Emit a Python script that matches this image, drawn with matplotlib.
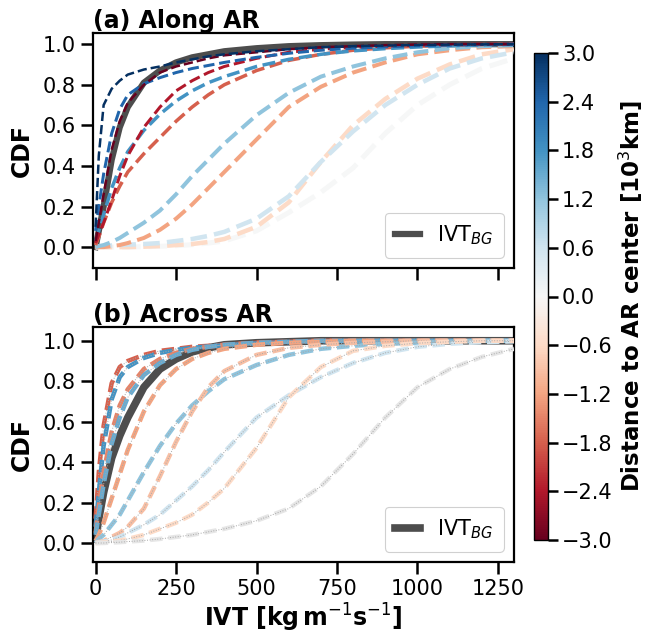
import numpy as np
import matplotlib
matplotlib.use("Agg")
import matplotlib.pyplot as plt
from matplotlib.colors import Normalize
from matplotlib.cm import ScalarMappable

# ---------------- data ----------------
ivt = [0, 10, 25, 50, 75, 100, 150, 200, 250, 300, 350, 400, 500, 600, 700, 800, 900, 1000, 1100, 1200, 1300]

# panel (a): along AR
dist_a = [3.0, 2.4, 1.8, 1.2, 0.6, 0.0, -0.6, -1.2, -1.8, -2.4, -3.0]
cdf_a_p30 = [0.10, 0.45, 0.70, 0.78, 0.82, 0.85, 0.875, 0.89, 0.91, 0.925, 0.94, 0.95, 0.965, 0.975, 0.985, 0.99, 0.993, 0.996, 0.998, 0.999, 1.0]
cdf_a_p24 = [0.08, 0.20, 0.36, 0.56, 0.68, 0.75, 0.805, 0.835, 0.86, 0.88, 0.895, 0.91, 0.935, 0.955, 0.97, 0.98, 0.987, 0.992, 0.995, 0.998, 1.0]
cdf_a_p18 = [0.03, 0.08, 0.16, 0.29, 0.39, 0.47, 0.575, 0.655, 0.72, 0.77, 0.81, 0.84, 0.89, 0.925, 0.95, 0.967, 0.978, 0.986, 0.992, 0.996, 0.998]
cdf_a_p12 = [0.0, 0.005, 0.01, 0.025, 0.045, 0.07, 0.12, 0.18, 0.26, 0.35, 0.43, 0.51, 0.65, 0.76, 0.84, 0.89, 0.93, 0.96, 0.98, 0.99, 0.995]
cdf_a_p06 = [0.0, 0.003, 0.005, 0.008, 0.01, 0.012, 0.015, 0.02, 0.03, 0.04, 0.055, 0.075, 0.14, 0.25, 0.42, 0.57, 0.70, 0.80, 0.88, 0.93, 0.96]
cdf_a_000 = [0.0, 0.0, 0.0, 0.0, 0.0, 0.0, 0.002, 0.004, 0.007, 0.012, 0.02, 0.03, 0.08, 0.17, 0.27, 0.39, 0.56, 0.70, 0.80, 0.88, 0.93]
cdf_a_m06 = [0.0, 0.0, 0.0, 0.0, 0.0, 0.0, 0.002, 0.005, 0.01, 0.015, 0.025, 0.04, 0.10, 0.22, 0.42, 0.60, 0.73, 0.83, 0.90, 0.95, 0.975]
cdf_a_m12 = [0.0, 0.0, 0.0, 0.005, 0.01, 0.02, 0.045, 0.085, 0.14, 0.21, 0.29, 0.37, 0.53, 0.69, 0.79, 0.86, 0.91, 0.95, 0.97, 0.985, 0.99]
cdf_a_m18 = [0.01, 0.05, 0.12, 0.22, 0.30, 0.37, 0.46, 0.54, 0.62, 0.69, 0.75, 0.80, 0.87, 0.92, 0.95, 0.97, 0.982, 0.99, 0.995, 0.998, 1.0]
cdf_a_m24 = [0.02, 0.06, 0.12, 0.23, 0.35, 0.45, 0.59, 0.69, 0.77, 0.82, 0.86, 0.89, 0.93, 0.96, 0.975, 0.985, 0.99, 0.995, 0.998, 1.0, 1.0]
cdf_a_m30 = [0.03, 0.12, 0.26, 0.48, 0.62, 0.71, 0.80, 0.86, 0.89, 0.91, 0.93, 0.945, 0.96, 0.975, 0.985, 0.99, 0.995, 0.998, 1.0, 1.0, 1.0]
cdf_a_bg = [0.0, 0.08, 0.20, 0.43, 0.59, 0.69, 0.81, 0.87, 0.91, 0.935, 0.95, 0.965, 0.98, 0.99, 0.995, 0.998, 1.0, 1.0, 1.0, 1.0, 1.0]

# panel (b): across AR
dist_b = [-1.8, 1.8, -1.5, 1.5, -1.2, 1.2, -0.9, 0.6, -0.6, 0.0]
cdf_b_m18 = [0.12, 0.35, 0.58, 0.79, 0.87, 0.90, 0.93, 0.95, 0.96, 0.97, 0.975, 0.98, 0.99, 0.995, 1.0, 1.0, 1.0, 1.0, 1.0, 1.0, 1.0]
cdf_b_p18 = [0.08, 0.25, 0.48, 0.71, 0.82, 0.87, 0.915, 0.94, 0.955, 0.965, 0.972, 0.978, 0.987, 0.993, 0.997, 1.0, 1.0, 1.0, 1.0, 1.0, 1.0]
cdf_b_m15 = [0.05, 0.18, 0.35, 0.55, 0.68, 0.76, 0.86, 0.91, 0.94, 0.96, 0.97, 0.98, 0.99, 0.995, 1.0, 1.0, 1.0, 1.0, 1.0, 1.0, 1.0]
cdf_b_p15 = [0.04, 0.14, 0.29, 0.49, 0.62, 0.72, 0.83, 0.89, 0.93, 0.955, 0.97, 0.98, 0.99, 0.995, 1.0, 1.0, 1.0, 1.0, 1.0, 1.0, 1.0]
cdf_b_m12 = [0.01, 0.04, 0.10, 0.22, 0.34, 0.46, 0.65, 0.78, 0.86, 0.91, 0.94, 0.96, 0.98, 0.99, 0.995, 1.0, 1.0, 1.0, 1.0, 1.0, 1.0]
cdf_b_p12 = [0.0, 0.02, 0.04, 0.09, 0.14, 0.21, 0.35, 0.48, 0.59, 0.68, 0.75, 0.81, 0.88, 0.93, 0.96, 0.975, 0.985, 0.99, 0.995, 1.0, 1.0]
cdf_b_m09 = [0.0, 0.005, 0.01, 0.03, 0.05, 0.08, 0.17, 0.33, 0.50, 0.65, 0.77, 0.85, 0.93, 0.965, 0.98, 0.99, 0.995, 1.0, 1.0, 1.0, 1.0]
cdf_b_p06 = [0.0, 0.003, 0.007, 0.015, 0.03, 0.05, 0.09, 0.14, 0.21, 0.28, 0.36, 0.45, 0.62, 0.73, 0.82, 0.89, 0.94, 0.97, 0.985, 0.993, 0.997]
cdf_b_m06 = [0.0, 0.0, 0.003, 0.007, 0.012, 0.02, 0.04, 0.07, 0.10, 0.14, 0.20, 0.27, 0.47, 0.72, 0.87, 0.95, 0.975, 0.988, 0.995, 1.0, 1.0]
cdf_b_000 = [0.0, 0.0, 0.0, 0.002, 0.004, 0.007, 0.012, 0.02, 0.03, 0.04, 0.055, 0.07, 0.11, 0.17, 0.28, 0.44, 0.62, 0.77, 0.86, 0.92, 0.96]
cdf_b_bg = [0.02, 0.12, 0.25, 0.42, 0.53, 0.62, 0.77, 0.86, 0.91, 0.945, 0.965, 0.98, 0.99, 0.995, 1.0, 1.0, 1.0, 1.0, 1.0, 1.0, 1.0]

xticks = [0, 250, 500, 750, 1000, 1250]
yticks = [0.0, 0.2, 0.4, 0.6, 0.8, 1.0]
cbar_ticks = [-3.0, -2.4, -1.8, -1.2, -0.6, 0.0, 0.6, 1.2, 1.8, 2.4, 3.0]

curves_a = [cdf_a_p30, cdf_a_p24, cdf_a_p18, cdf_a_p12, cdf_a_p06, cdf_a_000,
            cdf_a_m06, cdf_a_m12, cdf_a_m18, cdf_a_m24, cdf_a_m30]
curves_b = [cdf_b_m18, cdf_b_p18, cdf_b_m15, cdf_b_p15, cdf_b_m12, cdf_b_p12,
            cdf_b_m09, cdf_b_p06, cdf_b_m06, cdf_b_000]

# ---------------- plot ----------------
plt.rcParams['font.family'] = ['DejaVu Sans']
cmap = plt.get_cmap('RdBu')
norm = Normalize(vmin=-3, vmax=3)

W, H = 651, 634
fig = plt.figure(figsize=(W / 100, H / 100), dpi=100)
ax_a = fig.add_axes([93 / W, 1 - 268 / H, 421 / W, 235 / H])
ax_b = fig.add_axes([93 / W, 1 - 562 / H, 421 / W, 235 / H])
cax = fig.add_axes([534 / W, 1 - 540 / H, 14 / W, 487 / H])

bg_color = '#4d4d4d'

# panel a
ax_a.plot(ivt, cdf_a_bg, color=bg_color, lw=4.5, zorder=2, label='IVT$_{BG}$')
order_a = sorted(range(len(dist_a)), key=lambda i: -abs(dist_a[i]))
for i in reversed(order_a):
    d = dist_a[i]
    ax_a.plot(ivt, curves_a[i], ls='--', color=cmap(norm(d)),
              lw=1.8 + (3 - abs(d)) * 0.6, zorder=3)

# panel b
ax_b.plot(ivt, cdf_b_bg, color=bg_color, lw=5.5, zorder=2, label='IVT$_{BG}$')
for i, d in enumerate(dist_b):
    c = cmap(norm(d)) if d != 0.0 else '#e6e6e6'
    ax_b.plot(ivt, curves_b[i], ls='--', color=c, lw=3.2, zorder=3,
              dashes=(2.8, 1.3))
    ax_b.plot(ivt, curves_b[i], ls=':', color='#a8a8a8', lw=0.7, zorder=3)

for ax, title in [(ax_a, '(a) Along AR'), (ax_b, '(b) Across AR')]:
    ax.set_xlim(-8, 1300)
    ax.set_ylim(-0.103, 1.055)
    ax.set_xticks(xticks)
    ax.set_yticks(yticks)
    ax.set_yticklabels([f'{v:.1f}' for v in yticks])
    ax.tick_params(axis='both', length=8.5, width=1.8, labelsize=15, pad=4)
    for sp in ax.spines.values():
        sp.set_linewidth(1.6)
    ax.set_ylabel('CDF', fontsize=17, fontweight='bold', labelpad=6)
    ax.set_title(title, loc='left', fontsize=17, fontweight='bold', pad=3)
    leg = ax.legend(loc='lower right', fontsize=15, handlelength=1.2,
                    borderpad=0.5, framealpha=1, edgecolor='#d0d0d0')
    leg.get_frame().set_linewidth(0.8)

ax_b.set_ylim(-0.094, 1.068)
ax_a.set_xticklabels([])
ax_b.set_xlabel(r'IVT [kg$\,$m$^{-1}$s$^{-1}$]', fontsize=17, fontweight='bold', labelpad=2)

sm = ScalarMappable(norm=norm, cmap=cmap)
cb = fig.colorbar(sm, cax=cax, ticks=cbar_ticks)
cb.ax.set_yticklabels([f'{v:.1f}'.replace('-', '\u2212') for v in cbar_ticks])
cb.ax.tick_params(length=7, width=1.8, labelsize=15, pad=3)
cb.outline.set_linewidth(1.0)
cb.set_label('Distance to AR center [10$^3$km]', fontsize=16.5, fontweight='bold', labelpad=3)

fig.savefig('out.png', dpi=100)
